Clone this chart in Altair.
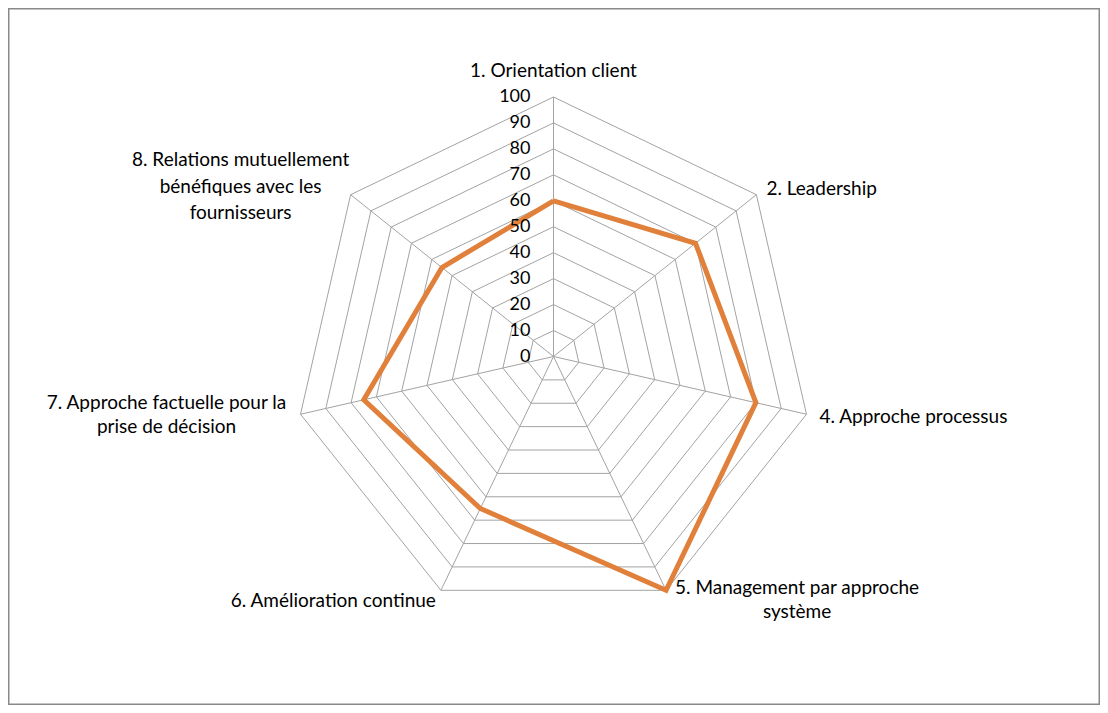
import math
import altair as alt
import pandas as pd

# ---- data ----
categories = [
    "1. Orientation client",
    "2. Leadership",
    "4. Approche processus",
    "5. Management par approche système",
    "6. Amélioration continue",
    "7. Approche factuelle pour la prise de décision",
    "8. Relations mutuellement bénéfiques avec les fournisseurs",
]
label_lines = [
    "1. Orientation client",
    "2. Leadership",
    "4. Approche processus",
    "5. Management par approche\nsystème",
    "6. Amélioration continue",
    "7. Approche factuelle pour la\nprise de décision",
    "8. Relations mutuellement\nbénéfiques avec les\nfournisseurs",
]
values = [60, 70, 80, 100, 65, 75, 55]
tick_values = [0, 10, 20, 30, 40, 50, 60, 70, 80, 90, 100]
max_value = 100

# ---- geometry helpers (data space) ----
n = len(categories)
angles = [2 * math.pi * i / n for i in range(n)]

W, H = 1092, 697
cx, cy = 545.5, 348.5      # centre of the radar inside the chart (px)
k = 2.595                  # px per unit
x_dom = [-cx / k, (W - cx) / k]
y_dom = [-(H - cy) / k, cy / k]
xs = alt.Scale(domain=x_dom, nice=False, zero=False)
ys = alt.Scale(domain=y_dom, nice=False, zero=False)
X = lambda f: alt.X(f, type="quantitative", scale=xs, axis=None)
Y = lambda f: alt.Y(f, type="quantitative", scale=ys, axis=None)

grid_rows = []
for lev in tick_values[1:]:
    for j in range(n + 1):
        a = angles[j % n]
        grid_rows.append({"level": lev, "order": j,
                          "x": lev * math.sin(a), "y": lev * math.cos(a)})
grid_df = pd.DataFrame(grid_rows)

spoke_df = pd.DataFrame({
    "x": [0.0] * n, "y": [0.0] * n,
    "x2": [max_value * math.sin(a) for a in angles],
    "y2": [max_value * math.cos(a) for a in angles],
})

series_rows = []
for j in range(n + 1):
    a = angles[j % n]
    v = values[j % n]
    series_rows.append({"order": j, "x": v * math.sin(a), "y": v * math.cos(a)})
series_df = pd.DataFrame(series_rows)

tick_df = pd.DataFrame({"x": [0.0] * len(tick_values), "y": tick_values,
                        "t": [str(t) for t in tick_values]})

GRID = "#a3a3a3"
ORANGE = "#e0803a"
FONT = "Lato"
FS = 19

grid = alt.Chart(grid_df).mark_line(color=GRID, strokeWidth=1).encode(
    x=X("x"), y=Y("y"), detail="level:N", order="order:Q")
spokes = alt.Chart(spoke_df).mark_rule(color=GRID, strokeWidth=1).encode(
    x=X("x"), y=Y("y"), x2="x2", y2="y2")
series = alt.Chart(series_df).mark_line(color=ORANGE, strokeWidth=5,
                                        strokeJoin="miter").encode(
    x=X("x"), y=Y("y"), order="order:Q")
ticks = alt.Chart(tick_df).mark_text(align="right", baseline="middle", dx=-23,
                                     font=FONT, fontSize=18, color="#000000").encode(
    x=X("x"), y=Y("y"), text="t:N")

# per-label placement style: (align, dx, dy of first line, line height)
label_style = [
    ("center", 0, -26, 25),
    ("left", 10, -6, 25),
    ("left", 13, 3, 25),
    ("center", 131, -2.5, 24.5),
    ("right", -5, 11, 25),
    ("center", -134, -11.5, 24.5),
    ("center", -110, -34.7, 26.5),
]
label_layers = []
for i in range(n):
    a = angles[i]
    d = pd.DataFrame({"x": [max_value * math.sin(a)], "y": [max_value * math.cos(a)],
                      "t": [label_lines[i]]})
    al, dx, dy, lh = label_style[i]
    label_layers.append(
        alt.Chart(d).mark_text(align=al, baseline="middle", dx=dx, dy=dy,
                               lineBreak="\n", lineHeight=lh,
                               font=FONT, fontSize=FS, color="#000000").encode(
            x=X("x"), y=Y("y"), text="t:N"))

chart = alt.layer(grid, spokes, series, ticks, *label_layers).properties(
    width=W, height=H, padding=0, autosize=alt.AutoSizeParams(type="none"),
    background="white",
).configure_view(stroke="#898989", strokeWidth=3)

chart.save("out.html", embed_options={"renderer": "svg", "actions": False})
